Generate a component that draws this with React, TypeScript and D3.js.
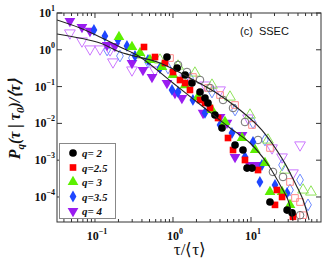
import React, { useEffect, useRef } from "react";
import * as d3 from "d3";

// filled symbols (lower fit)
const q2X = [0.837, 1.13, 1.43, 1.75, 2.22, 2.57, 2.81, 3.45, 4.25, 6.24, 7.89, 8.89, 10.3, 17.5, 29.0, 33.6];
const q2Y = [0.637, 0.32, 0.207, 0.125, 0.0713, 0.049, 0.0358, 0.0169, 0.0075, 0.00259, 0.00189, 6.1e-4, 6.1e-4, 7.3e-5, 4.4e-5, 3.7e-5];
const q25X = [0.425, 0.588, 0.789, 1.0, 1.23, 1.43, 1.65, 2.22, 2.57, 2.98, 3.78, 5.07, 5.88, 8.37, 12.3, 21.5, 25.0, 20.3, 34.5];
const q25Y = [1.19, 0.637, 0.438, 0.249, 0.151, 0.125, 0.0809, 0.0433, 0.0358, 0.0262, 0.014, 0.00401, 0.00189, 0.00101, 5.4e-4, 1.55e-4, 1.0e-4, 6.1e-5, 2.9e-5];
const q3X = [0.203, 0.298, 0.378, 0.507, 0.723, 1.0, 1.43, 2.09, 3.16, 4.64, 7.67, 11.3, 15.1, 17.5, 25.0, 31.6];
const q3Y = [2.23, 1.19, 0.818, 0.528, 0.341, 0.207, 0.11, 0.0521, 0.0231, 0.0109, 0.00401, 0.00189, 8.4e-4, 1.37e-4, 1.37e-4, 6.1e-5];
const q35X = [0.097, 0.134, 0.197, 0.257, 0.326, 0.478, 0.681, 0.971, 1.16, 1.8, 2.57, 4.01, 5.7, 8.37, 10.6, 13.8, 13.0, 20.3, 29.0];
const q35Y = [3.45, 2.37, 1.85, 1.27, 0.679, 0.528, 0.32, 0.0809, 0.0713, 0.0433, 0.0192, 0.00906, 0.00548, 0.00122, 0.00313, 7.4e-4, 2.56e-4, 2.12e-4, 1.29e-4];
const q4X = [0.0477, 0.0681, 0.0863, 0.143, 0.18, 0.298, 0.412, 0.538, 0.837, 1.06, 1.3, 2.43, 4.01, 4.92, 7.67, 6.24, 9.71, 12.3];
const q4Y = [6.06, 4.17, 3.25, 1.35, 1.27, 0.438, 0.282, 0.182, 0.125, 0.067, 0.049, 0.0192, 0.0149, 0.0103, 0.00484, 0.00122, 7.4e-4, 7.4e-4];

// open symbols (upper fit)
const o2X = [1.16, 1.51, 2.22, 2.98, 4.38, 5.88, 8.37, 12.3, 19.1, 25.7, 42.5];
const o2Y = [0.386, 0.249, 0.151, 0.0916, 0.0433, 0.0262, 0.0109, 0.00354, 4.8e-4, 3.5e-4, 3.2e-5];
const o25X = [0.916, 1.8, 2.81, 4.01, 6.24, 10.3, 17.5, 31.6, 36.6, 42.5, 46.5];
const o25Y = [0.598, 0.182, 0.0916, 0.0591, 0.0316, 0.00906, 0.00215, 2.56e-4, 9.4e-5, 7.3e-5, 3.2e-5];
const o3X = [0.378, 0.681, 1.16, 1.91, 3.16, 5.38, 9.71, 16.5, 27.3, 46.5, 58.7];
const o3Y = [0.722, 0.528, 0.363, 0.234, 0.11, 0.0521, 0.0169, 0.00354, 5.4e-4, 1.55e-4, 1.37e-4];
const o35X = [0.143, 0.209, 0.298, 0.478, 0.863, 1.65, 3.16, 6.24, 10.6, 15.1, 25.0, 31.6, 42.5, 53.8];
const o35Y = [0.99, 0.679, 0.598, 0.466, 0.32, 0.171, 0.0713, 0.0231, 0.0103, 0.00354, 7.4e-4, 1.55e-4, 2.9e-4, 6.1e-5];
const o4X = [0.0477, 0.0681, 0.0863, 0.116, 0.156, 0.17, 0.298, 0.588, 1.43, 2.57, 4.01, 9.16, 18.6, 25.0, 34.5, 42.5];
const o4Y = [2.86, 1.73, 1.05, 1.05, 0.99, 0.466, 0.282, 0.282, 0.171, 0.11, 0.0809, 0.014, 0.00215, 0.00122, 4.5e-4, 0.00259];

// fitted curves
const fitLowX = [0.0326, 0.0643, 0.116, 0.209, 0.378, 1.0, 2.73, 5.38, 9.71, 16.0, 23.6, 29.8, 34.5];
const fitLowY = [6.46, 3.91, 2.23, 1.19, 0.637, 0.125, 0.0231, 0.0075, 0.00293, 8.4e-4, 2.12e-4, 8.3e-5, 2.23e-5];
const fitUpX = [0.0326, 0.116, 0.209, 0.681, 1.65, 3.45, 7.23, 13.8, 25.7, 37.8, 46.5, 55.5];
const fitUpY = [2.68, 1.53, 0.871, 0.438, 0.171, 0.0713, 0.0231, 0.0066, 0.00101, 2.12e-4, 8.3e-5, 2.37e-5];

const legendLabels = ["q= 2", "q=2.5", "q= 3", "q=3.5", "q= 4"];
const xTicks = [0.1, 1, 10];
const xTickExp = ["\u22121", "0", "1"];
const yTicks = [1e-4, 1e-3, 1e-2, 1e-1, 1, 10];
const yTickExp = ["\u22124", "\u22123", "\u22122", "\u22121", "0", "1"];

const zip = (xs: number[], ys: number[]) => xs.map((v, i) => [v, ys[i]] as [number, number]);

const App = () => {
  const ref = useRef<SVGSVGElement>(null);

  useEffect(() => {
    const width = 327;
    const height = 261;
    const L = 57, R = 321, T = 13, B = 222;
    const svg = d3.select(ref.current);
    svg.selectAll("*").remove();

    const x = d3.scaleLog().domain([0.0326, 78.9]).range([L, R]);
    const y = d3.scaleLog().domain([2.09e-5, 10]).range([B, T]);

    svg.append("defs").append("clipPath").attr("id", "plotclip")
      .append("rect").attr("x", L).attr("y", T).attr("width", R - L).attr("height", B - T);

    const shapes: any = {
      circle: { t: d3.symbolCircle, s: 46, r: 0 },
      square: { t: d3.symbolSquare, s: 44, r: 0 },
      up: { t: d3.symbolTriangle, s: 50, r: 0 },
      diamond: { t: d3.symbolDiamond, s: 40, r: 0 },
      down: { t: d3.symbolTriangle, s: 50, r: 180 },
    };

    const openSeries = [
      { pts: zip(o4X, o4Y), shape: "down", color: "#cc77ff" },
      { pts: zip(o35X, o35Y), shape: "diamond", color: "#6f8cff" },
      { pts: zip(o3X, o3Y), shape: "up", color: "#8fe35a" },
      { pts: zip(o25X, o25Y), shape: "square", color: "#ff8a8a" },
      { pts: zip(o2X, o2Y), shape: "circle", color: "#707070" },
    ];
    const filledSeries = [
      { pts: zip(q4X, q4Y), shape: "down", color: "#9a1cf0" },
      { pts: zip(q35X, q35Y), shape: "diamond", color: "#1e46ff" },
      { pts: zip(q3X, q3Y), shape: "up", color: "#5cf000" },
      { pts: zip(q25X, q25Y), shape: "square", color: "#ff0000" },
      { pts: zip(q2X, q2Y), shape: "circle", color: "#000000" },
    ];

    const plot = svg.append("g").attr("clip-path", "url(#plotclip)");

    openSeries.forEach(s => {
      const sh = shapes[s.shape];
      plot.append("g").selectAll("path").data(s.pts).join("path")
        .attr("d", d3.symbol().type(sh.t).size(sh.s)() as string)
        .attr("transform", d => `translate(${x(d[0])},${y(d[1])}) rotate(${sh.r})`)
        .attr("fill", "none").attr("stroke", s.color).attr("stroke-width", 1);
    });

    filledSeries.forEach(s => {
      const sh = shapes[s.shape];
      plot.append("g").selectAll("path").data(s.pts).join("path")
        .attr("d", d3.symbol().type(sh.t).size(sh.s)() as string)
        .attr("transform", d => `translate(${x(d[0])},${y(d[1])}) rotate(${sh.r})`)
        .attr("fill", s.color);
    });

    const line = d3.line<[number, number]>().x(d => x(d[0])).y(d => y(d[1])).curve(d3.curveCatmullRom);
    [zip(fitLowX, fitLowY), zip(fitUpX, fitUpY)].forEach(pts => {
      plot.append("path").attr("d", line(pts)).attr("fill", "none")
        .attr("stroke", "#222").attr("stroke-width", 1.1);
    });

    // frame + ticks
    svg.append("rect").attr("x", L).attr("y", T).attr("width", R - L).attr("height", B - T)
      .attr("fill", "none").attr("stroke", "#333").attr("stroke-width", 1);

    const ticks = svg.append("g").attr("stroke", "#333").attr("stroke-width", 1);
    const minors: number[] = [];
    [0.01, 0.1, 1, 10].forEach(dec => {
      for (let k = 2; k <= 9; k++) {
        const v = dec * k;
        if (v > 0.0326 && v < 78.9) minors.push(v);
      }
    });
    minors.forEach(v => {
      ticks.append("line").attr("x1", x(v)).attr("x2", x(v)).attr("y1", B).attr("y2", B - 3);
      ticks.append("line").attr("x1", x(v)).attr("x2", x(v)).attr("y1", T).attr("y2", T + 3);
    });
    xTicks.forEach(v => {
      ticks.append("line").attr("x1", x(v)).attr("x2", x(v)).attr("y1", B).attr("y2", B - 5);
      ticks.append("line").attr("x1", x(v)).attr("x2", x(v)).attr("y1", T).attr("y2", T + 5);
    });
    yTicks.forEach(v => {
      ticks.append("line").attr("x1", L).attr("x2", L + 5).attr("y1", y(v)).attr("y2", y(v));
      ticks.append("line").attr("x1", R).attr("x2", R - 5).attr("y1", y(v)).attr("y2", y(v));
    });

    const font = "'Liberation Serif', 'Times New Roman', serif";
    xTicks.forEach((v, i) => {
      const t = svg.append("text").attr("x", x(v) + 2).attr("y", 240)
        .attr("text-anchor", "middle").attr("font-family", font).attr("font-weight", "bold")
        .attr("font-size", 12).attr("fill", "#111");
      t.append("tspan").text("10");
      t.append("tspan").attr("dy", -6).attr("font-size", 8).text(xTickExp[i]);
    });
    yTicks.forEach((v, i) => {
      const t = svg.append("text").attr("x", 55).attr("y", y(v) + 4)
        .attr("text-anchor", "end").attr("font-family", font).attr("font-weight", "bold")
        .attr("font-size", 12).attr("fill", "#111");
      t.append("tspan").text("10");
      t.append("tspan").attr("dy", -6).attr("font-size", 8).text(yTickExp[i]);
    });

    // axis titles
    svg.append("text").attr("x", 190).attr("y", 255).attr("text-anchor", "middle")
      .attr("font-family", font).attr("font-size", 17).attr("fill", "#111").text("\u03c4/\u27e8\u03c4\u27e9");

    const yt = svg.append("text").attr("transform", `translate(20,${119}) rotate(-90)`)
      .attr("text-anchor", "middle").attr("font-family", font).attr("font-weight", "bold")
      .attr("font-style", "italic").attr("font-size", 16).attr("fill", "#111");
    yt.append("tspan").text("P");
    yt.append("tspan").attr("dy", 4).attr("font-size", 11).text("q");
    yt.append("tspan").attr("dy", -4).text("(\u03c4 | \u03c4");
    yt.append("tspan").attr("dy", 4).attr("font-size", 11).text("0");
    yt.append("tspan").attr("dy", -4).text(")/\u27e8\u03c4\u27e9");

    svg.append("text").attr("x", 240).attr("y", 35).attr("font-family", "'Liberation Sans', Arial, sans-serif")
      .attr("font-size", 11).attr("fill", "#111").attr("xml:space", "preserve").text("(c)  SSEC");

    // legend
    const lg = svg.append("g");
    lg.append("rect").attr("x", 59.5).attr("y", 143.5).attr("width", 56).attr("height", 75)
      .attr("fill", "white").attr("stroke", "#888").attr("stroke-width", 1);
    const legendShapes = ["circle", "square", "up", "diamond", "down"];
    const legendColors = ["#000000", "#ff0000", "#5cf000", "#1e46ff", "#9a1cf0"];
    legendLabels.forEach((lab, i) => {
      const cy = 153 + i * 14.5;
      const sh = shapes[legendShapes[i]];
      lg.append("path").attr("d", d3.symbol().type(sh.t).size(sh.s)() as string)
        .attr("transform", `translate(73,${cy}) rotate(${sh.r})`).attr("fill", legendColors[i]);
      lg.append("text").attr("x", 82).attr("y", cy + 4).attr("font-family", font)
        .attr("font-weight", "bold").attr("font-style", "italic").attr("font-size", 11)
        .attr("fill", "#111").attr("xml:space", "preserve").text(lab);
    });
    svg.attr("width", width).attr("height", height);
  }, []);

  return (
    <svg ref={ref} width={327} height={261}
      style={{ position: "absolute", left: 0, top: 0, background: "white" }} />
  );
};

export default App;
